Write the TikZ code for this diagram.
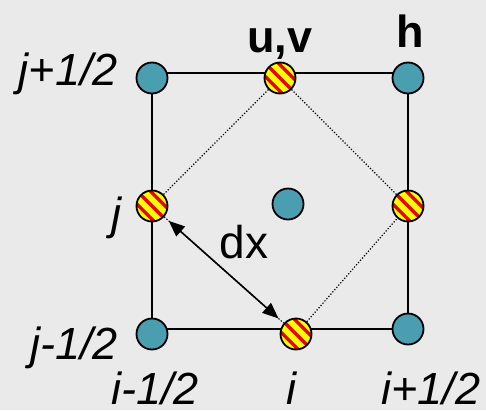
\documentclass[tikz,border=0pt]{standalone}
\usepackage{fontspec}
\setmainfont{Liberation Sans}
\usetikzlibrary{arrows.meta}
\definecolor{bg}{RGB}{234,234,234}
\definecolor{teal}{RGB}{74,158,176}
\definecolor{stred}{RGB}{235,0,0}
\definecolor{styel}{RGB}{255,255,0}
\tikzset{
  dot/.style={circle, draw=black, line width=1.8pt, minimum size=31pt, inner sep=0pt, fill=teal},
  stripe/.style={circle, draw=black, line width=1.8pt, minimum size=31pt, inner sep=0pt, fill=styel,
    path picture={\foreach \k in {-4,...,4}
      \draw[stred, line width=3.4pt] ([shift={({\k*6.6pt-25pt},{\k*6.6pt+25pt})}]path picture bounding box.center) -- ++(50pt,-50pt);}},
  grid/.style={line width=1.8pt, black},
  diag/.style={line width=1.2pt, black, dash pattern=on 1.2pt off 1.8pt},
  idx/.style={font=\fontsize{45}{50}\selectfont\itshape, inner sep=0pt},
  bold/.style={font=\fontsize{45}{50}\selectfont\bfseries, inner sep=0pt},
  plain/.style={font=\fontsize{46}{50}\selectfont, inner sep=0pt},
  dxarrow/.style={line width=1.6pt, {Triangle[length=16pt,width=13pt]}-{Triangle[length=16pt,width=13pt]}, shorten <=6pt, shorten >=7pt}
}
\begin{document}
\begin{tikzpicture}[x=1pt,y=-1pt]
\fill[bg] (0,0) rectangle (486,410);
\useasboundingbox (0,0) rectangle (486,410);
% grid cell
\coordinate (ctl) at (152,73);
\coordinate (cbr) at (408,329);
\draw[grid] (ctl) rectangle (cbr);
% nodes
\node[dot] (tl) at (152,78) {};
\node[dot] (tr) at (408,78) {};
\node[dot] (bl) at (152,334) {};
\node[dot] (br) at (408,329) {};
\node[dot] (cc) at (288,204) {};
\node[stripe] (uT) at (280,78) {};
\node[stripe] (jL) at (152,206) {};
\node[stripe] (jR) at (408,206) {};
\node[stripe] (iB) at (296,334) {};
% dotted diamond
\draw[diag] (uT) -- (jL);
\draw[diag] (jL) -- (iB);
\draw[diag] (iB) -- (jR);
\draw[diag] (jR) -- (uT);
% dx arrow
\draw[dxarrow] (jL) -- (iB);
% labels
\node[bold, anchor=base] (luv) at (280,52) {u,v};
\node[bold, anchor=base] (lh) at (410,47) {h};
\node[idx, anchor=base east] (ljp) at (118,85) {j+1/2};
\node[idx, anchor=base east] (lj) at (122,229) {j};
\node[idx, anchor=base east] (ljm) at (118,359) {j-1/2};
\node[plain, anchor=base] (ldx) at (244,258) {dx};
\node[idx, anchor=base, text depth=0pt] (lim) at (155,404) {i-1/2};
\node[idx, anchor=base, text depth=0pt] (li) at (291,404) {i};
\node[idx, anchor=base, text depth=0pt] (lip) at (431,404) {i+1/2};
\end{tikzpicture}
\end{document}
